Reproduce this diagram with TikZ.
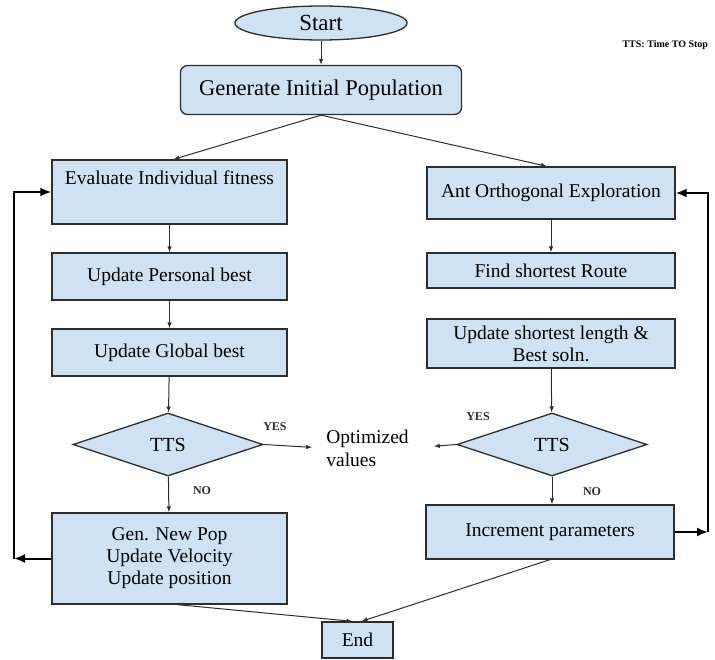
\documentclass[tikz,border=0pt]{standalone}
\usepackage{fontspec}
\setmainfont{Liberation Serif}
\usetikzlibrary{shapes.geometric,arrows.meta}
\definecolor{boxblue}{RGB}{207,226,243}
\definecolor{edge}{RGB}{45,45,45}
\tikzset{
box/.style={rectangle,draw=edge,fill=boxblue,line width=1.3pt,inner sep=0pt,
align=center,font=\fontsize{19.5}{22}\selectfont},
dec/.style={diamond,draw=edge,fill=boxblue,line width=1.3pt,inner sep=0pt,
minimum width=190pt,minimum height=63pt,font=\fontsize{20}{24}\selectfont},
lbl/.style={font=\fontsize{12}{14}\selectfont\bfseries,text=edge},
flow/.style={-{Latex[length=6pt,width=4.5pt]},line width=1pt,draw=edge},
back/.style={-{Latex[length=11pt,width=9pt]},line width=2pt,draw=black}
}
\begin{document}
\begin{tikzpicture}[x=1pt,y=1pt]
\useasboundingbox (0,0) rectangle (715,-660);
\node[ellipse](start) at (321,-23) [draw=edge,fill=boxblue,line width=1.3pt,
minimum width=172pt,
minimum height=34pt,inner sep=0pt,font=\fontsize{23}{26}\selectfont] {Start};
\node[box,rounded corners=7pt](gen) at (321,-90) [
minimum width=281pt,
minimum height=49pt,font=\fontsize{22.5}{26}\selectfont] {Generate Initial Population};
\node[anchor=west,font=\fontsize{10}{12}\selectfont\bfseries](note) at (619,-45) {TTS: Time TO Stop};
\node[box](eval) at (169.5,-192) [
minimum width=235pt,
minimum height=64pt] {Evaluate Individual fitness\\\strut};
\node[box](pbest) at (169.5,-276.5) [
minimum width=235pt,
minimum height=47pt] {Update Personal best};
\node[box](gbest) at (169.5,-352.5) [
minimum width=235pt,
minimum height=47pt] {Update Global best};
\node[dec](ttsl) at (168,-444.5) {TTS};
\node[box](newpop) at (169.5,-558.5) [
minimum width=235pt,
minimum height=91pt] {Gen. New Pop\\Update Velocity\\Update position};
\node[box](ant) at (551,-193) [
minimum width=248pt,
minimum height=52pt] {Ant Orthogonal Exploration};
\node[box](route) at (551,-270.5) [
minimum width=248pt,
minimum height=35pt] {Find shortest Route};
\node[box](short) at (551,-343.5) [
minimum width=248pt,
minimum height=49pt] {Update shortest length \&\\Best soln.};
\node[dec](ttsr) at (552,-444.5) {TTS};
\node[box](incr) at (550,-532) [
minimum width=248pt,
minimum height=54pt] {Increment parameters};
\node[box](stop) at (357.5,-640) [
minimum width=71pt,
minimum height=36pt] {End};
\node[align=left,inner sep=3pt,font=\fontsize{19.5}{23}\selectfont](opt) at (367.5,-448) {Optimized\\values};
\node[lbl](yesl) at (275,-427) {YES};
\node[lbl](yesr) at (478,-417) {YES};
\node[lbl](nol) at (202,-491) {NO};
\node[lbl](nor) at (592,-492) {NO};
\coordinate (lback) at (14,-558.5);
\coordinate (rback) at (708,-532);
\draw[flow] (start)--(gen);
\draw[flow] (gen.south)--([xshift=4pt]eval.north);
\draw[flow] (gen.south)--([xshift=-4pt]ant.north);
\draw[flow] (eval)--(pbest);
\draw[flow] (pbest)--(gbest);
\draw[flow] (gbest)--(ttsl);
\draw[flow] (ttsl)--(newpop);
\draw[flow,shorten >=11pt] (ttsl.east)--(opt.west);
\draw[flow,shorten >=22pt] (ttsr.west)--(opt.east);
\draw[flow] (ant)--(route);
\draw[flow] (short)--(ttsr);
\draw[flow] (ttsr)--(incr.north-|ttsr);
\draw[flow] ([xshift=8pt]newpop.south)--([xshift=-5pt]stop.north);
\draw[flow] (incr.south)--([xshift=4pt]stop.north);
\draw[back] (newpop.west)--(lback);
\draw[back] (lback)|-(eval.west);
\draw[back] (incr.east)--(rback);
\draw[back] (rback)|-(ant.east);
\end{tikzpicture}
\end{document}
